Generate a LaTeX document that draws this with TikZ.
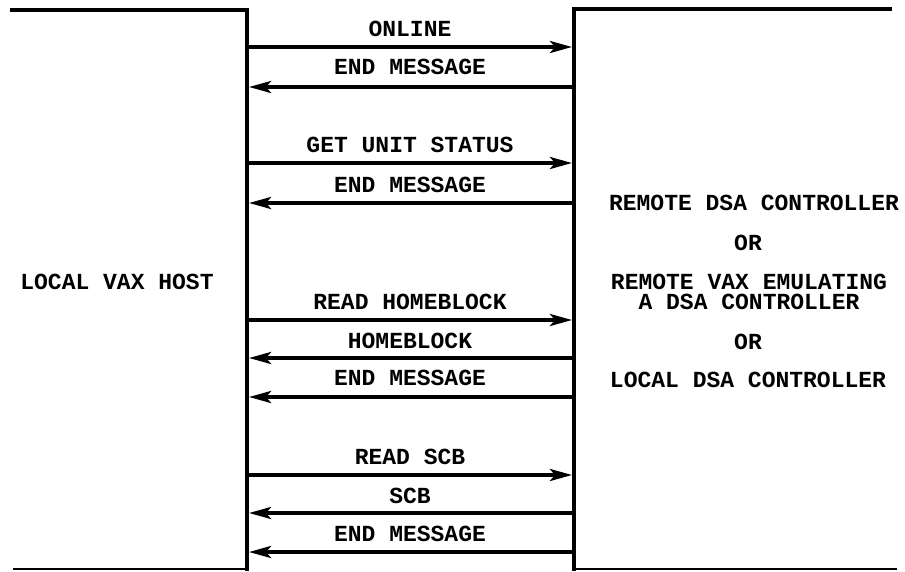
\documentclass[tikz,border=0pt]{standalone}
\usepackage{fontspec}
\setmonofont{Liberation Mono}
\usetikzlibrary{arrows.meta}
\tikzset{
  lbl/.style={font=\ttfamily\bfseries\fontsize{23}{20}\selectfont, inner sep=0pt, anchor=center, align=center},
  frame/.style={line width=4pt, line cap=butt},
  thinframe/.style={line width=1.6pt},
  msg/.style={line width=3.6pt, -{Stealth[length=22pt,width=12pt,inset=5pt]}}
}
\begin{document}
\begin{tikzpicture}[x=1pt,y=-1pt]
\useasboundingbox (0,0) rectangle (905,571);
% frame coordinates
\coordinate (tl0) at (10,9.5);
\coordinate (tl1) at (247,9.5);
\coordinate (bl0) at (13,569);
\coordinate (bl1) at (247,569);
\coordinate (tr0) at (574,8.5);
\coordinate (tr1) at (892,8.5);
\coordinate (br0) at (574,569);
\coordinate (br1) at (897,569);
\draw[frame] (tl0) -- (tl1) -- (247,571);
\draw[frame] (574,571) -- (tr0) -- (tr1);
\draw[thinframe] (bl0) -- (bl1);
\draw[thinframe] (br0) -- (br1);
% message endpoints
\foreach \n/\y in {1/47,2/87,3/163,4/203,5/320,6/358,7/397,8/475,9/513,10/552}{
  \coordinate (L\n) at (249,\y);
  \coordinate (R\n) at (572,\y);
}
\draw[msg] (L1) -- (R1);
\draw[msg] (R2) -- (L2);
\draw[msg] (L3) -- (R3);
\draw[msg] (R4) -- (L4);
\draw[msg] (L5) -- (R5);
\draw[msg] (R6) -- (L6);
\draw[msg] (R7) -- (L7);
\draw[msg] (L8) -- (R8);
\draw[msg] (R9) -- (L9);
\draw[msg] (R10) -- (L10);
% message labels
\node[lbl] (m1) at (410,29) {ONLINE};
\node[lbl] (m2) at (410,67) {END MESSAGE};
\node[lbl] (m3) at (410,145) {GET UNIT STATUS};
\node[lbl] (m4) at (410,185) {END MESSAGE};
\node[lbl] (m5) at (410,302) {READ HOMEBLOCK};
\node[lbl] (m6) at (410,341) {HOMEBLOCK};
\node[lbl] (m7) at (410,378) {END MESSAGE};
\node[lbl] (m8) at (410,457) {READ SCB};
\node[lbl] (m9) at (410,496) {SCB};
\node[lbl] (m10) at (410,534) {END MESSAGE};
% side labels
\node[lbl] (host) at (117,282) {LOCAL VAX HOST};
\node[lbl] (r1) at (754,203) {REMOTE DSA CONTROLLER};
\node[lbl] (r2) at (748,243) {OR};
\node[lbl] (r3) at (749,292) {REMOTE VAX EMULATING\\A DSA CONTROLLER};
\node[lbl] (r5) at (748,342) {OR};
\node[lbl] (r6) at (748,380) {LOCAL DSA CONTROLLER};
\end{tikzpicture}
\end{document}
